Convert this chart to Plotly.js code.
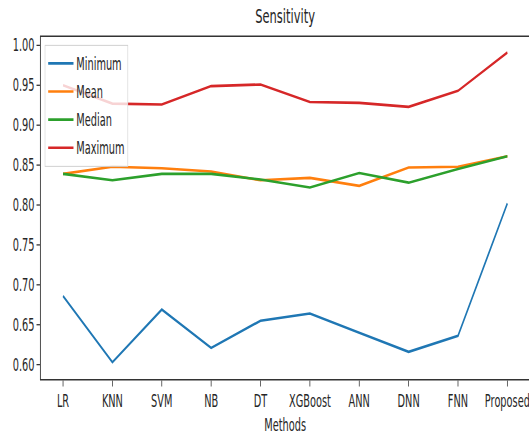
<!DOCTYPE html>
<html>
<head>
<meta charset="utf-8">
<script src="https://cdn.plot.ly/plotly-3.0.1.min.js"></script>
<style>
  html, body { margin: 0; padding: 0; background: #fff; }
  body { width: 529px; height: 435px; overflow: hidden; }
  /* the figure is laid out wide and then condensed horizontally */
  #chart { width: 940px; height: 435px; transform: scaleX(0.575); transform-origin: 0 0; }
</style>
</head>
<body>
<div id="chart"></div>
<script>
const methods = ['LR', 'KNN', 'SVM', 'NB', 'DT', 'XGBoost', 'ANN', 'DNN', 'FNN', 'Proposed'];
const minimum = [0.686, 0.603, 0.669, 0.621, 0.655, 0.664, 0.640, 0.616, 0.636, 0.802];
const mean    = [0.839, 0.848, 0.846, 0.842, 0.831, 0.834, 0.824, 0.847, 0.848, 0.861];
const median  = [0.839, 0.831, 0.839, 0.839, 0.832, 0.822, 0.840, 0.828, 0.845, 0.861];
const maximum = [0.950, 0.927, 0.926, 0.949, 0.951, 0.929, 0.928, 0.923, 0.943, 0.991];

const seriesNames = ['Minimum', 'Mean', 'Median', 'Maximum'];
const seriesColors = ['#1f77b4', '#ff7f0e', '#2ca02c', '#d62728'];
const seriesValues = [minimum, mean, median, maximum];

const font = 'DejaVu Sans, sans-serif';
const ink = '#262626';

// one legend group per series so the legend rows get a little extra spacing
const traces = seriesValues.map((vals, i) => ({
  type: 'scatter',
  mode: 'lines',
  x: methods,
  y: vals,
  name: seriesNames[i],
  legendgroup: seriesNames[i],
  line: { color: seriesColors[i], width: 2.6 }
}));

const axisCommon = {
  showgrid: false,
  zeroline: false,
  showline: true,
  mirror: true,
  linecolor: '#333',
  linewidth: 1.5,
  ticks: 'outside',
  ticklen: 6,
  tickwidth: 1.3,
  tickcolor: '#333',
  tickfont: { family: font, size: 17, color: ink }
};

const layout = {
  width: 940,
  height: 435,
  margin: { l: 71, r: 19, t: 37, b: 56 },
  paper_bgcolor: '#fff',
  plot_bgcolor: '#fff',
  title: {
    text: 'Sensitivity',
    font: { family: font, size: 20, color: ink },
    x: 0.5275, xref: 'container', xanchor: 'center',
    y: 0.963, yref: 'container', yanchor: 'middle'
  },
  xaxis: Object.assign({}, axisCommon, {
    type: 'category',
    range: [-0.45, 9.45],
    title: { text: 'Methods', font: { family: font, size: 17, color: ink }, standoff: 10 }
  }),
  yaxis: Object.assign({}, axisCommon, {
    range: [0.582, 1.0105],
    tickvals: [0.60, 0.65, 0.70, 0.75, 0.80, 0.85, 0.90, 0.95, 1.00],
    tickformat: '.2f'
  }),
  legend: {
    x: 0.008, xanchor: 'left',
    y: 0.977, yanchor: 'top',
    bgcolor: 'rgba(255,255,255,0.8)',
    bordercolor: '#d0d0d0',
    borderwidth: 1,
    itemwidth: 44,
    tracegroupgap: 3,
    font: { family: font, size: 17, color: ink }
  },
  showlegend: true
};

Plotly.newPlot('chart', traces, layout, { staticPlot: true, displayModeBar: false });
</script>
</body>
</html>
